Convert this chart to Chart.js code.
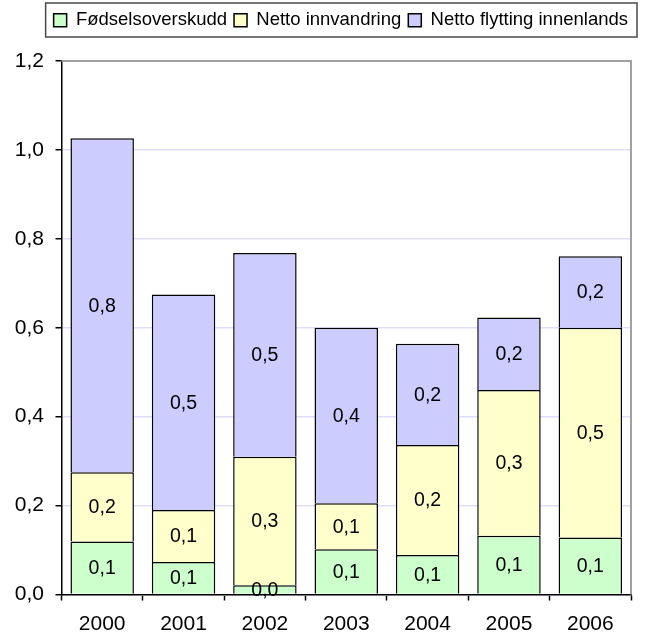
<!DOCTYPE html>
<html>
<head>
<meta charset="utf-8">
<script src="https://cdn.jsdelivr.net/npm/chart.js@4.4.1/dist/chart.umd.min.js"></script>
<style>
  html, body { margin: 0; padding: 0; background: #ffffff; }
  #wrap { width: 646px; height: 637px; position: relative; }
</style>
</head>
<body>
<div id="wrap"><canvas id="c" width="646" height="637"></canvas></div>
<script>
// ---- Data ----
const categories = ['2000', '2001', '2002', '2003', '2004', '2005', '2006'];
const seriesNames = ['Fødselsoverskudd', 'Netto innvandring', 'Netto flytting innenlands'];
const fodselsoverskudd = [0.119, 0.073, 0.021, 0.102, 0.089, 0.132, 0.128];
const nettoInnvandring = [0.156, 0.117, 0.289, 0.103, 0.247, 0.328, 0.472];
const nettoFlytting    = [0.751, 0.485, 0.458, 0.395, 0.228, 0.163, 0.161];
const yTickValues = [0, 0.2, 0.4, 0.6, 0.8, 1.0, 1.2];

const FONT = "'Liberation Sans', Arial, sans-serif";
const fmt = v => Number(v).toFixed(1).replace('.', ',');

Chart.defaults.font.family = FONT;
Chart.defaults.color = '#000000';

const legendSpacer = {
  id: 'legendSpacer',
  beforeUpdate(chart) {
    const lg = chart.legend;
    if (lg && !lg._patched) {
      const orig = lg.fit;
      lg.fit = function () { orig.call(this); this.height = 57; };
      lg._patched = true;
    }
  }
};

const plotBorder = {
  id: 'plotBorder',
  beforeDatasetsDraw(chart) {
    const { ctx, chartArea: a } = chart;
    ctx.save();
    ctx.strokeStyle = '#a0a0a0';
    ctx.lineWidth = 2;
    ctx.beginPath();
    ctx.moveTo(a.left, a.top);
    ctx.lineTo(a.right, a.top);
    ctx.lineTo(a.right, a.bottom);
    ctx.stroke();
    ctx.restore();
  }
};

const segmentLabels = {
  id: 'segmentLabels',
  afterDatasetsDraw(chart) {
    const ctx = chart.ctx;
    ctx.save();
    ctx.font = "19.5px " + FONT;
    ctx.fillStyle = '#000000';
    ctx.textAlign = 'center';
    ctx.textBaseline = 'middle';
    chart.data.datasets.forEach((ds, i) => {
      const meta = chart.getDatasetMeta(i);
      meta.data.forEach((el, j) => {
        const p = el.getProps(['x', 'y', 'base'], true);
        ctx.fillText(fmt(ds.data[j]), p.x, (p.y + p.base) / 2 + 1);
      });
    });
    ctx.restore();
  }
};

const legendFrame = {
  id: 'legendFrame',
  afterDraw(chart) {
    const lg = chart.legend;
    if (!lg || !lg.legendHitBoxes || !lg.legendHitBoxes.length) return;
    const hb = lg.legendHitBoxes;
    const left = hb[0].left - 8;
    const last = hb[hb.length - 1];
    const right = last.left + last.width + 9;
    const ctx = chart.ctx;
    ctx.save();
    ctx.strokeStyle = '#4a4a4a';
    ctx.lineWidth = 1.5;
    ctx.strokeRect(left, 3, right - left, 34);
    ctx.restore();
  }
};

new Chart(document.getElementById('c'), {
  type: 'bar',
  data: {
    labels: categories,
    datasets: [
      { label: seriesNames[0], data: fodselsoverskudd, backgroundColor: '#ccffcc', borderColor: '#000000', borderWidth: 1.5 },
      { label: seriesNames[1], data: nettoInnvandring, backgroundColor: '#ffffcc', borderColor: '#000000', borderWidth: 1.5 },
      { label: seriesNames[2], data: nettoFlytting,    backgroundColor: '#ccccff', borderColor: '#000000', borderWidth: 1.5 }
    ]
  },
  options: {
    responsive: false,
    animation: false,
    devicePixelRatio: 1,
    barPercentage: 0.78,
    categoryPercentage: 1.0,
    layout: { padding: { top: 4, right: 11, bottom: 0, left: 0 } },
    plugins: {
      legend: {
        position: 'top',
        align: 'end',
        labels: {
          boxWidth: 13,
          boxHeight: 13,
          padding: 7,
          color: '#000000',
          font: { size: 18.5, family: FONT }
        }
      },
      tooltip: { enabled: false }
    },
    scales: {
      x: {
        stacked: true,
        offset: true,
        grid: { display: true, offset: true, drawOnChartArea: false, drawTicks: true, tickLength: 6, tickColor: '#000000', tickWidth: 1.5 },
        border: { display: true, color: '#000000', width: 1.5 },
        ticks: { font: { size: 21, family: FONT }, color: '#000000', padding: 11, maxRotation: 0, autoSkip: false },
        afterFit(s) { s.height = 42.5; }
      },
      y: {
        stacked: true,
        min: 0,
        max: 1.2,
        grid: { color: '#dedefc', lineWidth: 1.5, drawTicks: true, tickLength: 6, tickColor: '#000000', tickWidth: 1.5 },
        border: { display: true, color: '#000000', width: 1.5 },
        ticks: { font: { size: 21, family: FONT }, color: '#000000', padding: 11.5, callback: v => fmt(v) },
        afterBuildTicks(s) { s.ticks = yTickValues.map(v => ({ value: v })); },
        afterFit(s) { s.width = 61.5; }
      },
      y2: {
        position: 'right',
        display: true,
        grid: { display: false, drawTicks: false },
        border: { display: false },
        ticks: { display: false },
        afterFit(s) { s.width = 4; }
      }
    }
  },
  plugins: [legendSpacer, plotBorder, segmentLabels, legendFrame]
});
</script>
</body>
</html>
